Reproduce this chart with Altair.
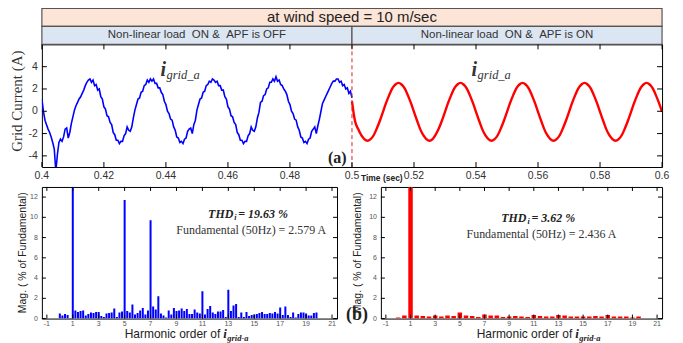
import altair as alt
import pandas as pd

SANS = "Liberation Sans"
SERIF = "Liberation Serif"
NB = "\u00a0"

# ---------------- data ----------------
# Grid current, APF OFF: 0.400 s .. 0.500 s, one reading every 0.5 ms
t_off_start, t_off_step = 0.400, 0.0005
i_grid_off = [
    1.1, 0.0, -0.8, -1.2, -1.6, -1.9, -2.3, -2.8, -3.4, -5.4,
    -3.9, -2.8, -2.5, -2.7, -2.3, -1.6, -1.5, -2.4, -1.9, -1.1,
    -0.5, 0.1, 0.5, 0.8, 1.1, 1.3, 1.6, 1.9, 2.3, 2.6, 2.8,
    2.9, 2.6, 2.8, 2.3, 2.4, 1.9, 2.0, 1.3, 1.1, 0.4,
    0.2, -0.4, -0.5, -1.0, -1.2, -1.9, -2.1, -2.6, -2.6, -2.9,
    -2.7, -2.7, -2.2, -2.0, -1.4, -1.7, -1.8, -1.4, -0.6, 0.1,
    0.6, 1.1, 1.2, 1.7, 1.8, 2.3, 2.4, 2.8, 2.6, 2.9,
    2.7, 2.9, 2.5, 2.5, 2.1, 2.1, 1.7, 1.5, 0.9, 0.6,
    0.0, -0.2, -0.7, -0.8, -1.4, -1.7, -2.3, -2.4, -2.8, -2.7,
    -2.9, -2.5, -2.4, -1.8, -1.6, -1.5, -2.0, -1.2, -0.8, 0.1,
    0.6, 1.1, 1.2, 1.7, 1.8, 2.3, 2.4, 2.7, 2.6, 2.9,
    2.8, 2.6, 2.7, 2.3, 2.3, 1.9, 1.9, 1.3, 1.1, 0.4,
    0.2, -0.4, -0.5, -1.0, -1.2, -1.9, -2.1, -2.6, -2.6, -2.9,
    -2.7, -2.7, -2.2, -2.0, -1.4, -1.7, -1.8, -1.4, -0.6, -0.1,
    0.8, 0.9, 1.4, 1.5, 2.0, 2.1, 2.6, 2.6, 2.9, 2.7,
    3.1, 2.7, 2.8, 2.4, 2.3, 2.0, 1.8, 1.5, 0.9, 0.6,
    0.0, -0.2, -0.7, -0.8, -1.4, -1.7, -2.3, -2.4, -2.8, -2.7,
    -2.9, -2.5, -2.4, -1.8, -1.6, -1.4, -2.0, -1.3, -0.7, 0.0,
    0.7, 1.0, 1.3, 1.6, 1.9, 2.2, 2.5, 2.7, 2.7, 2.9,
    2.9, 2.6, 2.7, 2.3, 2.4, 2.0, 2.1, 1.6, 1.8, 1.2,
]
# Grid current, APF ON: 0.500 s .. 0.600 s, one reading every 1 ms
t_on_start, t_on_step = 0.500, 0.001
i_grid_on = [
    0.9, -0.9, -1.6, -2.15, -2.5, -2.65, -2.5, -2.15, -1.55, -0.85,
    -0.05, 0.75, 1.45, 2.05, 2.4, 2.55, 2.4, 2.05, 1.45, 0.75,
    -0.05, -0.85, -1.6, -2.15, -2.5, -2.65, -2.5, -2.1, -1.55, -0.85,
    -0.05, 0.75, 1.45, 2.05, 2.4, 2.55, 2.4, 2.05, 1.45, 0.75,
    -0.05, -0.85, -1.6, -2.15, -2.5, -2.65, -2.5, -2.15, -1.55, -0.85,
    -0.05, 0.75, 1.45, 2.05, 2.4, 2.55, 2.4, 2.05, 1.45, 0.75,
    -0.05, -0.85, -1.6, -2.15, -2.5, -2.65, -2.5, -2.15, -1.55, -0.85,
    -0.05, 0.75, 1.45, 2.05, 2.4, 2.55, 2.4, 2.05, 1.45, 0.75,
    -0.05, -0.85, -1.6, -2.15, -2.5, -2.65, -2.5, -2.15, -1.55, -0.85,
    -0.05, 0.75, 1.45, 2.05, 2.4, 2.55, 2.4, 2.05, 1.45, 0.75,
    -0.05,
]
time_ticks = [0.4, 0.42, 0.44, 0.46, 0.48, 0.5, 0.52, 0.54, 0.56, 0.58, 0.6]
current_ticks = [-4, -2, 0, 2, 4]

# Harmonic spectrum, APF OFF (orders 0..19.8 step 0.2), % of fundamental
harm_off_step = 0.2
mag_off = [
    0.5, 0.3, 0.45, 0.35, 0.05, 100, 0.8, 0.65, 0.75, 0.8,
    0.3, 0.45, 0.6, 0.55, 0.65, 0.65, 0.25, 0.15, 0.5, 0.55,
    0.6, 1.0, 0.15, 0.6, 0.7, 11.7, 0.75, 0.6, 1.4, 0.4,
    0.55, 0.8, 1.05, 0.4, 0.8, 9.7, 1.2, 0.9, 2.2, 0.5,
    0.3, 0.1, 0.8, 0.4, 1.05, 0.75, 0.8, 1.0, 0.75, 0.95,
    0.45, 0.45, 0.9, 0.6, 0.5, 2.7, 0.4, 0.95, 1.25, 0.6,
    0.45, 0.7, 0.7, 0.85, 0.15, 2.85, 0.75, 1.3, 1.45, 0.15,
    0.6, 0.15, 0.65, 0.25, 0.35, 0.4, 0.45, 0.55, 0.65, 0.45,
    0.45, 0.55, 0.5, 0.65, 0.5, 1.1, 0.35, 1.2, 0.35, 0.15,
    0.6, 0.1, 0.45, 0.6, 0.6, 0.5, 0.3, 0.3, 0.55, 0.6,
]
# Harmonic spectrum, APF ON (orders 0..19.5 step 0.5)
harm_on_step = 0.5
mag_on = [
    0.1, 0.3, 100, 0.3, 0.25, 0.2, 0.3, 0.2, 0.3, 0.25,
    0.6, 0.3, 0.25, 0.15, 0.4, 0.3, 0.3, 0.15, 0.2, 0.25,
    0.2, 0.15, 0.35, 0.25, 0.2, 0.2, 0.35, 0.3, 0.2, 0.2,
    0.2, 0.2, 0.25, 0.2, 0.35, 0.2, 0.2, 0.2, 0.1, 0.2,
]
harm_ticks = [-1, 1, 3, 5, 7, 9, 11, 13, 15, 17, 19, 21]
mag_ticks = [0, 2, 4, 6, 8, 10, 12]

header_title = "at wind speed = 10 m/sec"
phase_labels = ["Non-linear load" + NB + NB + "ON &" + NB + NB + "APF is OFF",
                "Non-linear load" + NB + NB + "ON &" + NB + NB + "APF is ON"]
phase_start = [0.4, 0.5]
phase_end = [0.5, 0.6]
phase_mid = [0.45, 0.55]

df_off = pd.DataFrame({"t": [round(t_off_start + k * t_off_step, 4) for k in range(len(i_grid_off))],
                       "i": i_grid_off})
df_on = pd.DataFrame({"t": [round(t_on_start + k * t_on_step, 4) for k in range(len(i_grid_on))],
                      "i": i_grid_on})
df_h_off = pd.DataFrame({"h": [round(k * harm_off_step, 1) for k in range(len(mag_off))], "m": mag_off})
df_h_on = pd.DataFrame({"h": [round(k * harm_on_step, 1) for k in range(len(mag_on))], "m": mag_on})


# ---------------- helpers ----------------
def txt(s, x, y, size, font=SANS, weight="normal", style="normal", color="#222",
        align="left", baseline="middle", angle=0):
    return alt.Chart(pd.DataFrame({"s": [s]})).mark_text(
        align=align, baseline=baseline, font=font, fontSize=size, fontWeight=weight,
        fontStyle=style, color=color, angle=angle
    ).encode(x=alt.value(x), y=alt.value(y), text="s:N")


def frame_ticks(xvals, yvals, xs, ys, W, H, L=4):
    dx = pd.DataFrame({"v": xvals})
    dy = pd.DataFrame({"v": yvals})
    layers = []
    for y0, y1 in [(H, H - L), (0, L)]:
        layers.append(alt.Chart(dx).mark_rule(color="black", strokeWidth=1).encode(
            x=alt.X("v:Q", scale=xs, axis=None), y=alt.value(y0), y2=alt.value(y1)))
    for x0, x1 in [(0, L), (W, W - L)]:
        layers.append(alt.Chart(dy).mark_rule(color="black", strokeWidth=1).encode(
            y=alt.Y("v:Q", scale=ys, axis=None), x=alt.value(x0), x2=alt.value(x1)))
    return layers


def tick_labels(xvals, yvals, xs, ys, H, size, color, xdy, ydx):
    dx = pd.DataFrame({"v": xvals, "lab": [("%g" % v) for v in xvals]})
    dy = pd.DataFrame({"v": yvals, "lab": [("%g" % v) for v in yvals]})
    a = alt.Chart(dx).mark_text(font=SANS, fontSize=size, color=color, baseline="middle").encode(
        x=alt.X("v:Q", scale=xs, axis=None), y=alt.value(H + xdy), text="lab:N")
    b = alt.Chart(dy).mark_text(font=SANS, fontSize=size, color=color, align="right",
                                baseline="middle").encode(
        y=alt.Y("v:Q", scale=ys, axis=None), x=alt.value(-ydx), text="lab:N")
    return [a, b]


# ---------------- top panel ----------------
WT, HT = 622, 123
xs_t = alt.Scale(domain=[0.4, 0.6], nice=False, zero=False)
ys_t = alt.Scale(domain=[-5, 6], nice=False, zero=False)

anchor = alt.Chart(pd.DataFrame({"a": [0]})).mark_rect(opacity=0).encode(
    x=alt.value(-41), x2=alt.value(642), y=alt.value(-43), y2=alt.value(300))

hdr = pd.DataFrame({"x0": [0.4], "x1": [0.6], "xm": [0.5], "s": [header_title]})
hdr_rect = alt.Chart(hdr).mark_rect(fill="#fce4d6", stroke="#555", strokeWidth=1.2).encode(
    x=alt.X("x0:Q", scale=xs_t, axis=None), x2="x1:Q", y=alt.value(-36), y2=alt.value(-18))
hdr_text = alt.Chart(hdr).mark_text(font=SANS, fontSize=15, color="#222", baseline="middle").encode(
    x=alt.X("xm:Q", scale=xs_t, axis=None), y=alt.value(-27), text="s:N")
ph = pd.DataFrame({"x0": phase_start, "x1": phase_end, "xm": phase_mid, "s": phase_labels})
ph_rect = alt.Chart(ph).mark_rect(fill="#dce6f2", stroke="#555", strokeWidth=1.2).encode(
    x=alt.X("x0:Q", scale=xs_t, axis=None), x2="x1:Q", y=alt.value(-18), y2=alt.value(0))
ph_text = alt.Chart(ph).mark_text(font=SANS, fontSize=11.5, color="#333", baseline="middle").encode(
    x=alt.X("xm:Q", scale=xs_t, axis=None), y=alt.value(-9), text="s:N")

line_off = alt.Chart(df_off).mark_line(color="#0000ff", strokeWidth=1.6, clip=True).encode(
    x=alt.X("t:Q", scale=xs_t, axis=None), y=alt.Y("i:Q", scale=ys_t, axis=None))
line_on = alt.Chart(df_on).mark_line(color="#ff0000", strokeWidth=2.4, clip=True,
                                     interpolate="monotone").encode(
    x=alt.X("t:Q", scale=xs_t, axis=None), y=alt.Y("i:Q", scale=ys_t, axis=None))
switch = alt.Chart(pd.DataFrame({"t": [0.5]})).mark_rule(
    color="#e02020", strokeDash=[4, 3], strokeWidth=1).encode(x=alt.X("t:Q", scale=xs_t, axis=None))

top_layers = [anchor, hdr_rect, hdr_text, ph_rect, ph_text, line_off, line_on, switch]
top_layers += frame_ticks(time_ticks, current_ticks, xs_t, ys_t, WT, HT, 5)
top_layers += tick_labels(time_ticks, current_ticks, xs_t, ys_t, HT, 10.5, "#333", 9, 4)
top_layers += [
    txt("Grid Current (A)", -25, 57, 15, font=SERIF, color="#333", align="center", angle=270),
    txt("i", 119, 32, 20, font=SERIF, weight="bold", style="italic", color="#333", baseline="alphabetic"),
    txt("grid_a", 125, 35, 12.5, font=SERIF, style="italic", color="#333", baseline="alphabetic"),
    txt("i", 431, 32, 20, font=SERIF, weight="bold", style="italic", color="#333", baseline="alphabetic"),
    txt("grid_a", 437, 35, 12.5, font=SERIF, style="italic", color="#333", baseline="alphabetic"),
    txt("(a)", 287, 114, 16, font=SERIF, weight="bold", color="#222"),
    txt("Time (sec)", 320, 134, 8.5, weight="bold", color="#222"),
]
top = alt.layer(*top_layers).properties(width=WT, height=HT)


# ---------------- spectrum panels ----------------
HB = 132
ys_b = alt.Scale(domain=[0, 13], nice=False, zero=True)


def spectrum(df, W, color, size, thd, fund, thd_x, thd_y, fund_x, fund_y, title_x, htitle_x):
    xs_b = alt.Scale(domain=[-1, 21], nice=False, zero=False)
    bars = alt.Chart(df).mark_bar(color=color, size=size, clip=True).encode(
        x=alt.X("h:Q", scale=xs_b, axis=None), y=alt.Y("m:Q", scale=ys_b, axis=None))
    layers = [bars]
    layers += frame_ticks(harm_ticks, mag_ticks, xs_b, ys_b, W, HB, 4)
    layers += tick_labels(harm_ticks, mag_ticks, xs_b, ys_b, HB, 7, "#555", 5, 4)
    layers += [
        txt("Mag. ( % of Fundamental)", title_x, 66, 10.5, color="#222", align="center", angle=270),
        txt("Harmonic order of", htitle_x, 151, 12, color="#222", align="right", baseline="alphabetic"),
        txt("i", htitle_x + 3, 151, 13, font=SERIF, weight="bold", style="italic", color="#222",
            baseline="alphabetic"),
        txt("grid-a", htitle_x + 7, 154, 8.5, font=SERIF, weight="bold", style="italic", color="#222",
            baseline="alphabetic"),
        txt("THD", thd_x, thd_y, 12, font=SERIF, weight="bold", style="italic", color="#222", align="right"),
        txt("i", thd_x + 1, thd_y + 4, 8, font=SERIF, weight="bold", style="italic", color="#222"),
        txt(thd, thd_x + 5, thd_y, 12, font=SERIF, weight="bold", style="italic", color="#222"),
        txt(fund, fund_x, fund_y, 12, font=SERIF, color="#333", align="center"),
    ]
    return layers


left_layers = spectrum(df_h_off, 296, "#0000ff", 2.0, "= 19.63 %", "Fundamental (50Hz) = 2.579 A",
                       192, 27, 210, 43, -19, 179)
right_layers = spectrum(df_h_on, 282, "#ff0000", 4.5, "= 3.62 %", "Fundamental (50Hz) = 2.436 A",
                        146, 31, 161, 47, -23, 192)
right_layers.append(txt("(b)", -35, 128, 18, font=SERIF, weight="bold", color="#222"))

left = alt.layer(*left_layers).properties(width=296, height=HB)
right = alt.layer(*right_layers).properties(width=282, height=HB)

bottom = alt.hconcat(left, right, spacing=44, bounds="flush")
chart = alt.vconcat(top, bottom, spacing=20, bounds="flush").properties(
    padding=0, background="white"
).configure_view(stroke="black", strokeWidth=1)

chart.save("out.html", embed_options={"renderer": "svg", "actions": False})
